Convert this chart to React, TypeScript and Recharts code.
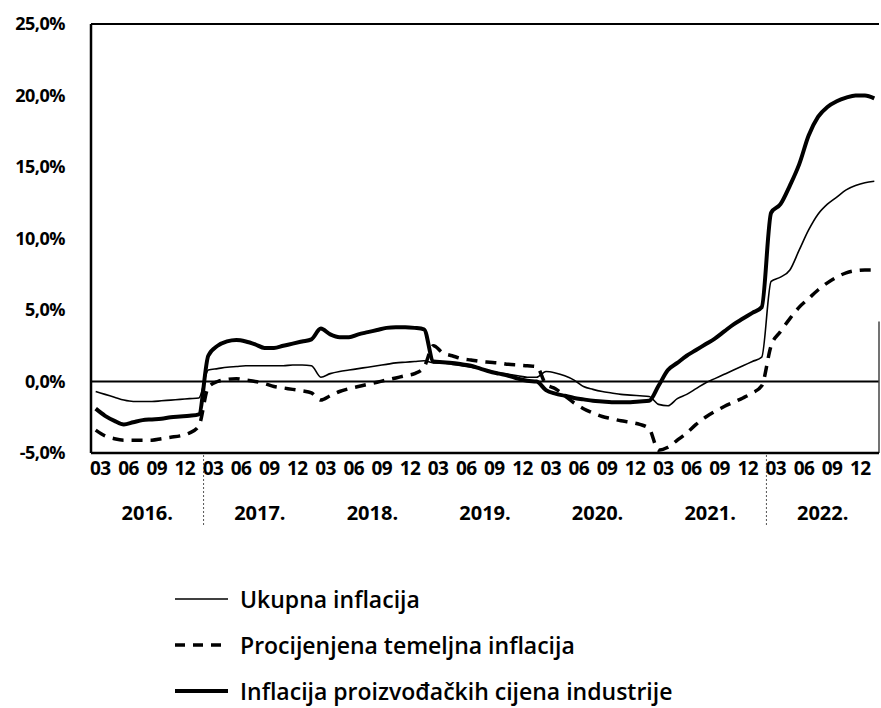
import { LineChart, Line, XAxis, YAxis, ReferenceLine } from "recharts";

// monthly data, Jan 2016 - Dec 2022 (year-on-year change, %)
const years = ["2016.", "2017.", "2018.", "2019.", "2020.", "2021.", "2022."];
const quarterLabels = ["03", "06", "09", "12"];
const yTicks = [-5, 0, 5, 10, 15, 20, 25];
const dividerYears = ["2017.", "2022."];

const ukupna = [
  -0.7, -0.9, -1.1, -1.3, -1.4, -1.4, -1.4, -1.35, -1.3, -1.25, -1.2, -1.15,
  0.8, 0.9, 1.0, 1.05, 1.1, 1.1, 1.1, 1.1, 1.1, 1.15, 1.15, 1.1,
  0.3, 0.55, 0.7, 0.8, 0.9, 1.0, 1.1, 1.2, 1.3, 1.35, 1.4, 1.45,
  1.3, 1.3, 1.2, 1.1, 1.0, 0.9, 0.75, 0.6, 0.5, 0.4, 0.3, 0.3,
  0.7, 0.6, 0.4, 0.1, -0.35, -0.55, -0.7, -0.8, -0.9, -0.95, -1.0, -1.05,
  -1.6, -1.7, -1.2, -0.9, -0.5, -0.1, 0.2, 0.5, 0.8, 1.1, 1.4, 1.7,
  7.0, 7.3, 7.8, 9.2, 10.6, 11.7, 12.4, 12.9, 13.4, 13.7, 13.9, 14.0,
];

const temeljna = [
  -3.4, -3.8, -4.0, -4.1, -4.1, -4.1, -4.1, -4.0, -3.9, -3.8, -3.6, -3.1,
  -0.4, 0.0, 0.15, 0.2, 0.1, 0.0, -0.15, -0.35, -0.45, -0.55, -0.65, -0.8,
  -1.3, -1.0, -0.7, -0.5, -0.35, -0.2, -0.05, 0.1, 0.25, 0.4, 0.55, 1.0,
  2.5, 2.0, 1.8, 1.6, 1.5, 1.4, 1.35, 1.3, 1.2, 1.15, 1.1, 1.05,
  -0.2, -0.5, -1.0, -1.5, -1.9, -2.2, -2.45, -2.6, -2.75, -2.85, -3.0, -3.3,
  -4.8, -4.6, -4.1, -3.6, -3.0, -2.5, -2.1, -1.75, -1.45, -1.15, -0.8, -0.3,
  2.5, 3.5, 4.4, 5.2, 5.8, 6.4, 6.9, 7.3, 7.6, 7.75, 7.8, 7.8,
];

const industrija = [
  -1.9, -2.4, -2.75, -3.0, -2.85, -2.7, -2.65, -2.6, -2.5, -2.45, -2.4, -2.3,
  1.8, 2.5, 2.8, 2.9, 2.8, 2.6, 2.35, 2.35, 2.5, 2.65, 2.8, 2.95,
  3.7, 3.3, 3.1, 3.1, 3.3, 3.45, 3.6, 3.75, 3.8, 3.8, 3.75, 3.65,
  1.4, 1.35, 1.3, 1.2, 1.1, 0.9, 0.7, 0.55, 0.4, 0.2, 0.05, 0.0,
  -0.6, -0.85, -1.0, -1.15, -1.25, -1.35, -1.4, -1.45, -1.45, -1.45, -1.4, -1.35,
  -0.3, 0.8, 1.3, 1.8, 2.2, 2.6, 3.0, 3.5, 4.0, 4.4, 4.8, 5.2,
  11.8, 12.4, 13.7, 15.2, 17.2, 18.5, 19.2, 19.6, 19.85, 20.0, 20.0, 19.8,
];

const series = [
  { key: "ukupna", name: "Ukupna inflacija", width: 1.6, dash: undefined as string | undefined },
  { key: "temeljna", name: "Procijenjena temeljna inflacija", width: 3.5, dash: "11 8" },
  { key: "industrija", name: "Inflacija proizvođačkih cijena industrije", width: 4, dash: undefined },
];

const data = ukupna.map((v, i) => ({
  m: i,
  ukupna: v,
  temeljna: temeljna[i],
  industrija: industrija[i],
}));

const quarterTicks = years.flatMap((_, y) => quarterLabels.map((_, q) => y * 12 + q * 3 + 0.5));
const yearTicks = years.map((_, y) => y * 12 + 5.5);
const dividerTicks = dividerYears.map((y) => years.indexOf(y) * 12 - 0.5);

const FONT = "'Open Sans', Lato, sans-serif";

const fmtPct = (v: number) => v.toFixed(1).replace(".", ",") + "%";

function QuarterTick(props: any) {
  const { x, y, index } = props;
  return (
    <text x={x} y={y + 20} textAnchor="middle" fontFamily={FONT} fontWeight={700} fontSize={19} letterSpacing={-0.6} fill="#000">
      {quarterLabels[index % 4]}
    </text>
  );
}

function YearTick(props: any) {
  const { x, y, payload } = props;
  const v = payload.value;
  const yi = yearTicks.indexOf(v);
  if (yi < 0) {
    return <line x1={x} x2={x} y1={y - 30} y2={y + 40} stroke="#555" strokeWidth={1} strokeDasharray="2 2" />;
  }
  return (
    <text x={x} y={y + 35} textAnchor="middle" fontFamily={FONT} fontWeight={700} fontSize={20} fill="#000">
      {years[yi]}
    </text>
  );
}

function LegendSample({ width, dash }: { width: number; dash?: string }) {
  return (
    <svg width={53} height={10} style={{ marginRight: 12 }}>
      <line x1={0} x2={53} y1={5} y2={5} stroke="#000" strokeWidth={width} strokeDasharray={dash ? "10 8" : undefined} />
    </svg>
  );
}

export default function App() {
  return (
    <div style={{ width: 881, height: 708, background: "#fff", fontFamily: FONT, overflow: "hidden" }}>
      <style>{"body{margin:0}"}</style>
      <LineChart width={881} height={543} data={data} margin={{ top: 24, right: 2, left: 0, bottom: 0 }}>
        <XAxis
          dataKey="m"
          type="number"
          domain={[-0.5, 83.5]}
          ticks={quarterTicks}
          interval={0}
          tick={<QuarterTick />}
          tickLine={false}
          tickSize={0}
          height={30}
          axisLine={{ stroke: "#000", strokeWidth: 2.5 }}
          allowDataOverflow
        />
        <XAxis
          xAxisId="year"
          dataKey="m"
          type="number"
          domain={[-0.5, 83.5]}
          ticks={[...yearTicks, ...dividerTicks]}
          interval={0}
          tick={<YearTick />}
          tickLine={false}
          tickSize={0}
          axisLine={false}
          height={60}
          allowDataOverflow
        />
        <YAxis
          type="number"
          domain={[-5, 25]}
          ticks={yTicks}
          interval={0}
          tickFormatter={fmtPct}
          tickLine={false}
          tickSize={0}
          tickMargin={26}
          width={91}
          axisLine={{ stroke: "#000", strokeWidth: 2.5 }}
          tick={{ fill: "#000", fontSize: 18, fontWeight: 700, fontFamily: FONT, letterSpacing: -0.5 }}
        />
        <ReferenceLine y={25} stroke="#000" strokeWidth={2} />
        <ReferenceLine y={0} stroke="#000" strokeWidth={2} />
        <ReferenceLine
          segment={[
            { x: 83.5, y: 4.2 },
            { x: 83.5, y: -5 },
          ]}
          stroke="#444"
          strokeWidth={1.5}
        />
        {series.map((s) => (
          <Line
            key={s.key}
            dataKey={s.key}
            name={s.name}
            type="monotone"
            stroke="#000"
            strokeWidth={s.width}
            strokeDasharray={s.dash}
            dot={false}
            activeDot={false}
            isAnimationActive={false}
          />
        ))}
      </LineChart>
      <div style={{ paddingTop: 33, paddingLeft: 175 }}>
        {series.map((s) => (
          <div key={s.key} style={{ height: 46, display: "flex", alignItems: "center", fontSize: 23, fontWeight: 600, color: "#000" }}>
            <LegendSample width={s.width} dash={s.dash} />
            <span>{s.name}</span>
          </div>
        ))}
      </div>
    </div>
  );
}
